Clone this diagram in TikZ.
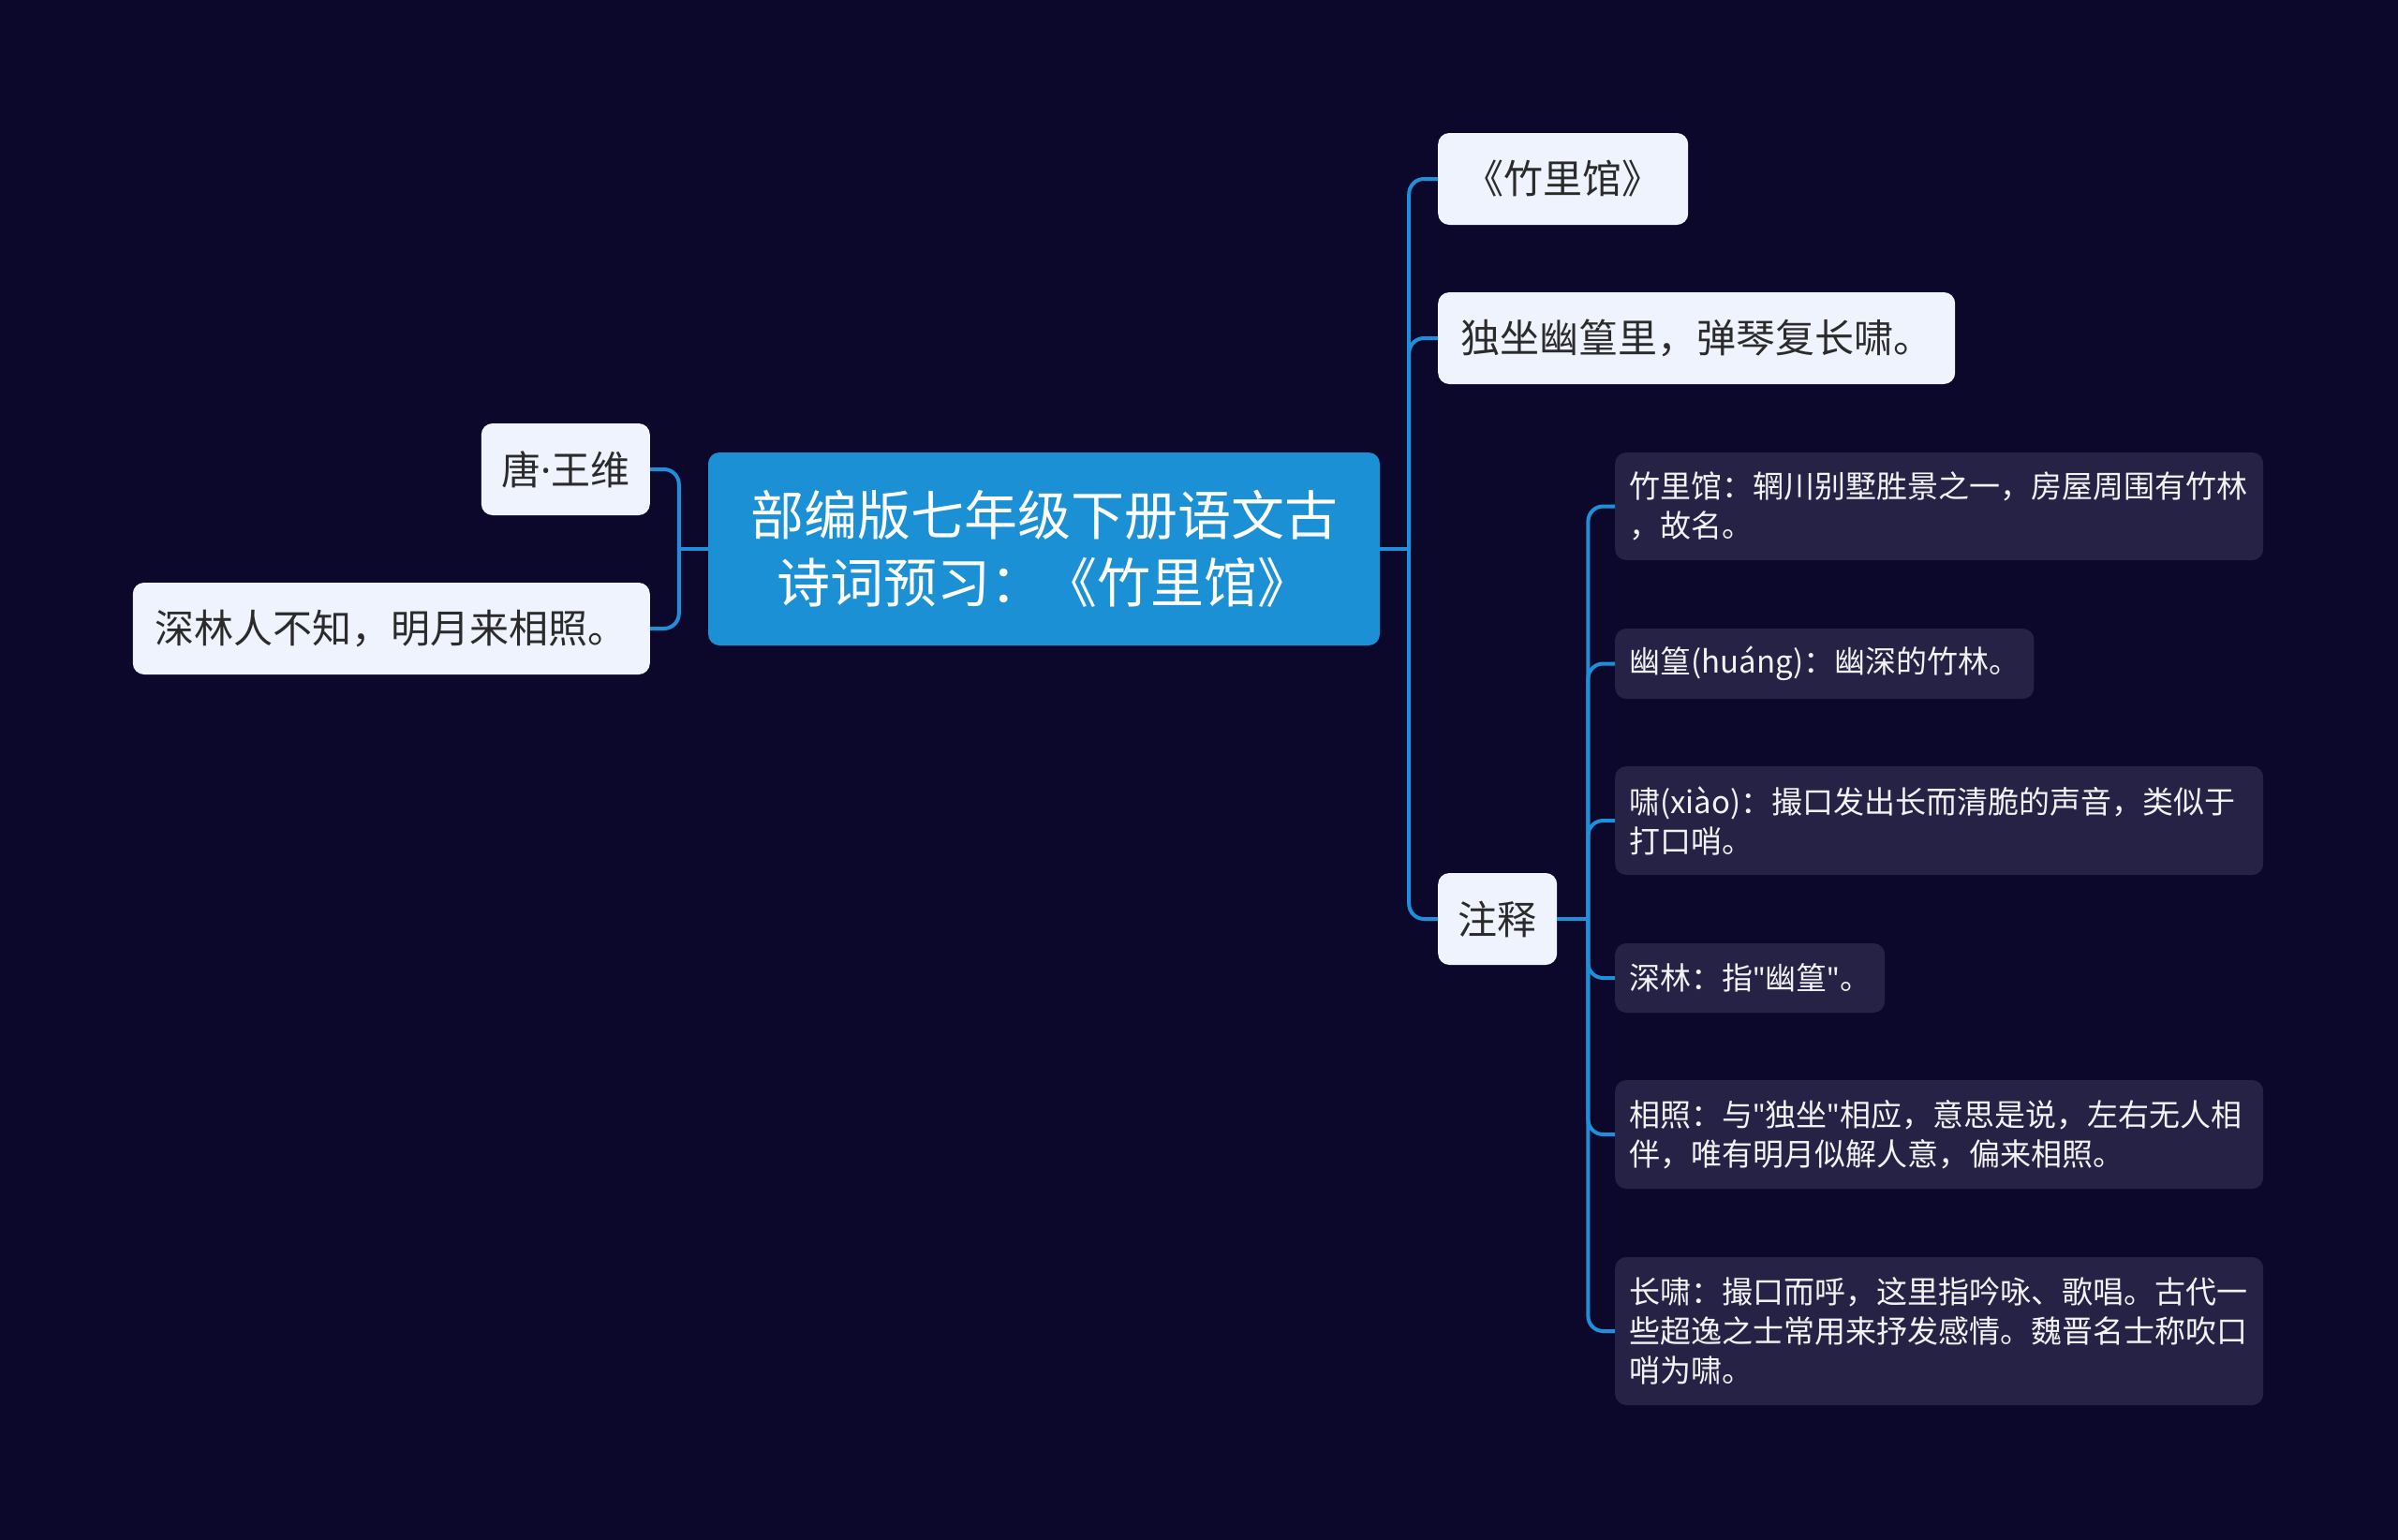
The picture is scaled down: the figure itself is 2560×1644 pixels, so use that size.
\documentclass[tikz,border=0pt]{standalone}
\usepackage{fontspec}
\newfontfamily\cjk{Noto Sans CJK SC}
\newfontfamily\latin{Noto Sans}
\definecolor{bg}{HTML}{0B082B}
\definecolor{rootblue}{HTML}{1B90D4}
\definecolor{linkblue}{HTML}{1E8FD8}
\definecolor{lightfill}{HTML}{EEF3FD}
\definecolor{leaffill}{HTML}{262246}
\definecolor{leaftext}{HTML}{F2F2F2}
\definecolor{darktext}{HTML}{2B2B2B}
\newcommand{\sq}{{\latin\symbol{34}}}
\begin{document}
\begin{tikzpicture}[x=1pt,y=-1pt,
  conn/.style={draw=linkblue,line width=4pt,rounded corners=16pt},
  rootbox/.style={fill=rootblue,rounded corners=12pt,text=white,align=center,font=\cjk\fontsize{57}{72}\selectfont,minimum width=717pt,minimum height=206pt,inner sep=0pt},
  lightbox/.style={fill=lightfill,rounded corners=12pt,text=darktext,font=\cjk\fontsize{42}{50}\selectfont,minimum height=98pt,inner sep=0pt},
  leafbox/.style={fill=leaffill,rounded corners=12pt,text=leaftext,font=\cjk\fontsize{33}{42}\selectfont,align=left,inner xsep=15pt,inner ysep=0pt},
]
\fill[bg] (0,0) rectangle (2560,1644);
\useasboundingbox (0,0) rectangle (2560,1644);

\node[rootbox] (root) at (1114.5,586) {部编版七年级下册语文古\\诗词预习：《竹里馆》};

\node[lightbox,minimum width=267pt,anchor=west] (t1) at (1535,191) {《竹里馆》};
\node[lightbox,minimum width=552pt,anchor=west] (t2) at (1535,361) {独坐幽篁里，弹琴复长啸。};
\node[lightbox,minimum width=127pt,anchor=west] (t3) at (1535,981) {注释};
\node[lightbox,minimum width=180pt,anchor=east] (l1) at (694,501) {唐{\latin·}王维};
\node[lightbox,minimum width=552pt,anchor=east] (l2) at (694,671) {深林人不知，明月来相照。};

\node[leafbox,text width=662pt,minimum height=115pt,anchor=west] (n1) at (1724,540.5) {竹里馆：辋川别墅胜景之一，房屋周围有竹林\\，故名。};
\node[leafbox,minimum height=75pt,anchor=west] (n2) at (1724,708.5) {幽篁(huáng)：幽深的竹林。};
\node[leafbox,text width=662pt,minimum height=116pt,anchor=west] (n3) at (1724,876) {啸(xiào)：撮口发出长而清脆的声音，类似于\\打口哨。};
\node[leafbox,minimum height=74pt,anchor=west] (n4) at (1724,1044) {深林：指\sq 幽篁\sq 。};
\node[leafbox,text width=662pt,minimum height=116pt,anchor=west] (n5) at (1724,1211) {相照：与\sq 独坐\sq 相应，意思是说，左右无人相\\伴，唯有明月似解人意，偏来相照。};
\node[leafbox,text width=662pt,minimum height=158pt,anchor=west] (n6) at (1724,1421) {长啸：撮口而呼，这里指吟咏、歌唱。古代一\\些超逸之士常用来抒发感情。魏晋名士称吹口\\哨为啸。};

\draw[conn] (root.east) -- ++(31,0) coordinate (rj);
\foreach \c in {t1,t2,t3} \draw[conn] (rj) |- (\c.west);
\draw[conn] (root.west) -- ++(-31,0) coordinate (lj);
\foreach \c in {l1,l2} \draw[conn] (lj) |- (\c.east);
\draw[conn] (t3.east) -- ++(33,0) coordinate (zj);
\foreach \c in {n1,n2,n3,n4,n5,n6} \draw[conn] (zj) |- (\c.west);
\end{tikzpicture}
\end{document}
